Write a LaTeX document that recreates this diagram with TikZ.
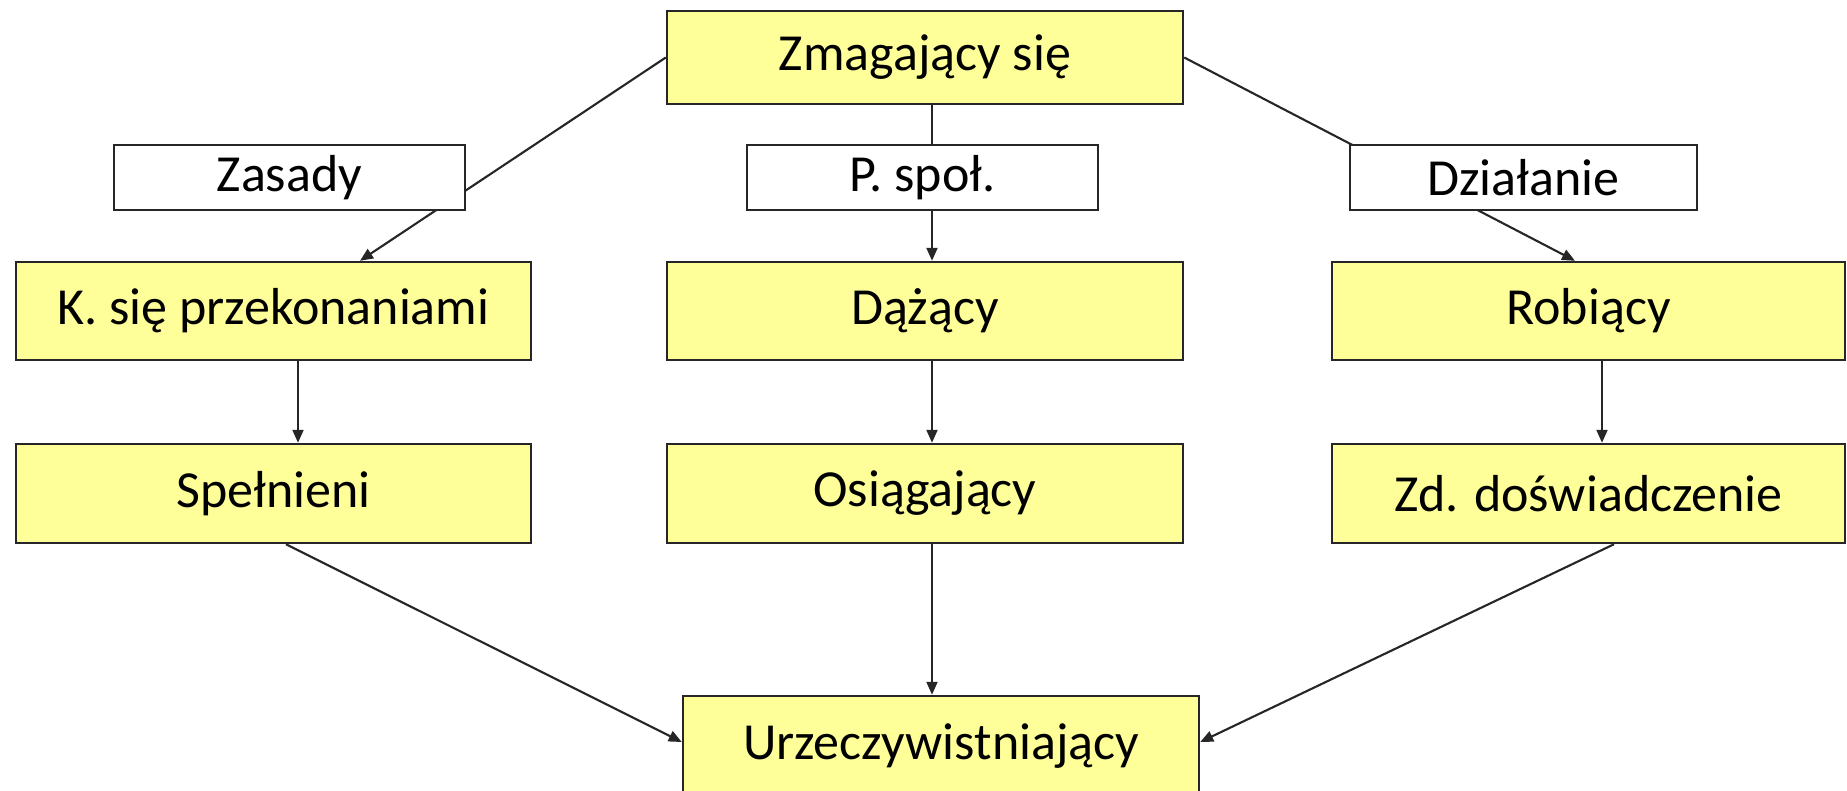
\documentclass[tikz,border=0pt]{standalone}
\usepackage{fontspec}
\setmainfont{Carlito}
\usetikzlibrary{arrows.meta,backgrounds}
\definecolor{boxyellow}{RGB}{255,255,153}
\tikzset{
  ybox/.style={draw=black!85, line width=0.7pt, fill=boxyellow, inner sep=0pt,
    minimum width=5.16cm, minimum height=0.95cm, font=\fontsize{14.8pt}{17pt}\selectfont},
  lbox/.style={draw=black!85, line width=0.7pt, fill=white, inner sep=0pt,
    minimum width=3.51cm, minimum height=0.65cm, font=\fontsize{14.8pt}{17pt}\selectfont},
  conn/.style={draw=black!85, line width=0.6pt},
  arr/.style={conn, -{Triangle[length=0.13cm,width=0.11cm]}}
}
\begin{document}
\begin{tikzpicture}
\useasboundingbox (0,0) rectangle (18.47,-7.91);
\node[ybox, minimum height=0.93cm] (Z) at (9.25,-0.575) {Zmagający się};
\node[lbox] (Zas) at (2.895,-1.775) {Zasady};
\node[lbox] (P) at (9.225,-1.775) {P. społ.};
\node[lbox, minimum width=3.47cm] (Dz) at (15.235,-1.775) {Działanie};
\node[ybox, minimum width=5.15cm, minimum height=0.98cm] (K) at (2.735,-3.11) {K. się przekonaniami};
\node[ybox, minimum height=0.98cm] (D) at (9.25,-3.11) {Dążący};
\node[ybox, minimum width=5.13cm, minimum height=0.98cm] (R) at (15.885,-3.11) {Robiący};
\node[ybox, minimum width=5.15cm, minimum height=0.99cm] (S) at (2.735,-4.935) {Spełnieni};
\node[ybox, minimum height=0.99cm] (O) at (9.25,-4.935) {Osiągający};
\node[ybox, minimum width=5.13cm, minimum height=0.99cm] (Zd) at (15.885,-4.935) {Zd. doświadczenie};
\node[ybox, minimum height=1.0cm] (U) at (9.41,-7.46) {Urzeczywistniający};
\begin{pgfonlayer}{background}
\draw[arr] (Z.west) -- ([xshift=8.65mm]K.north);
\draw[arr] (Z.east) -- ([xshift=-1.35mm]R.north);
\draw[arr] ([xshift=0.7mm]Z.south) -- ([xshift=0.7mm]D.north);
\draw[arr] ([xshift=2.45mm]K.south) -- ([xshift=2.45mm]S.north);
\draw[arr] ([xshift=0.7mm]D.south) -- ([xshift=0.7mm]O.north);
\draw[arr] ([xshift=1.35mm]R.south) -- ([xshift=1.35mm]Zd.north);
\draw[arr] ([xshift=0.7mm]O.south) -- ([xshift=0.7mm]O.south |- U.north);
\draw[arr] ([xshift=1.25mm]S.south) -- ([yshift=0.4mm]U.west);
\draw[arr] ([xshift=2.55mm]Zd.south) -- ([yshift=0.4mm]U.east);
\end{pgfonlayer}
\end{tikzpicture}
\end{document}
